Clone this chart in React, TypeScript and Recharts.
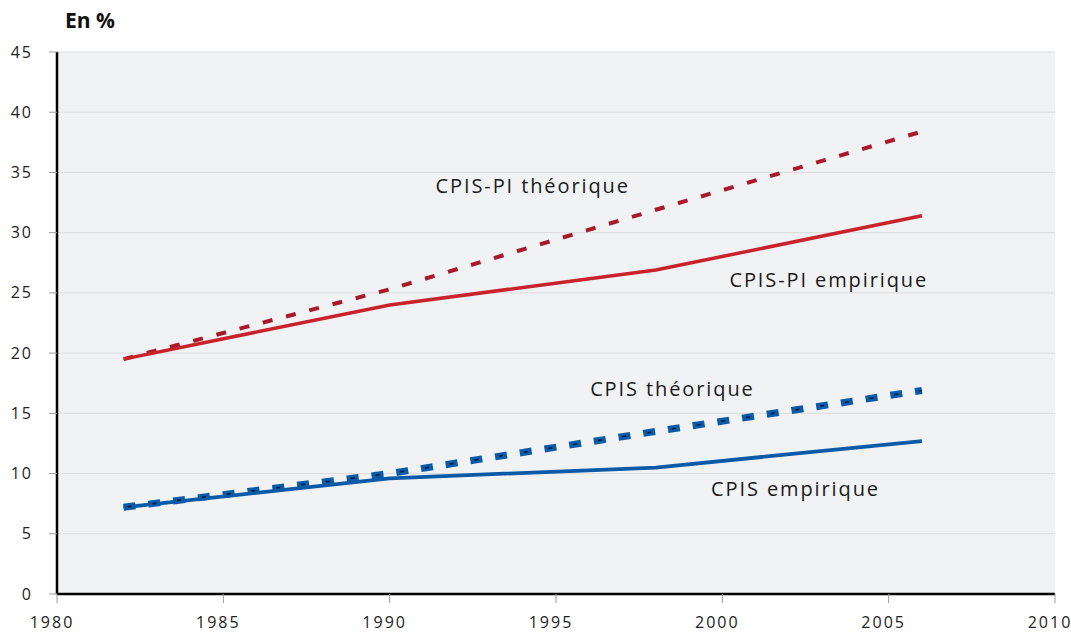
import React from "react";
import { CartesianGrid, Line, LineChart, ReferenceDot, XAxis, YAxis } from "recharts";

const years = [1982, 1990, 1998, 2006];
const cpisPiTheorique = [19.5, 25.3, 31.9, 38.4];
const cpisPiEmpirique = [19.5, 24.0, 26.9, 31.4];
const cpisTheorique = [7.2, 10.0, 13.5, 16.9];
const cpisEmpirique = [7.2, 9.6, 10.5, 12.7];

const xTicks = [1980, 1985, 1990, 1995, 2000, 2005, 2010];
const yTicks = [0, 5, 10, 15, 20, 25, 30, 35, 40, 45];

const labels = [
  { text: "CPIS-PI théorique", x: 1994.3, y: 33.9 },
  { text: "CPIS-PI empirique", x: 2003.2, y: 26.1 },
  { text: "CPIS théorique", x: 1998.5, y: 17.0 },
  { text: "CPIS empirique", x: 2002.2, y: 8.7 },
];

const data = years.map((year, i) => ({
  year,
  piTheo: cpisPiTheorique[i],
  piEmp: cpisPiEmpirique[i],
  theo: cpisTheorique[i],
  emp: cpisEmpirique[i],
}));

const font = "'Open Sans', sans-serif";

function XTick({ x, y, payload }: any) {
  return (
    <text x={x - 5} y={y} dy="0.71em" textAnchor="middle" fill="#222" fontSize={16} fontFamily={font} letterSpacing={2}>
      {payload.value}
    </text>
  );
}

function YTick({ x, y, payload }: any) {
  return (
    <text x={x} y={y} dy="0.35em" textAnchor="end" fill="#222" fontSize={16} fontFamily={font} letterSpacing={2}>
      {payload.value}
    </text>
  );
}

function NoteLabel(text: string) {
  return ({ viewBox }: any) => (
    <text
      x={viewBox.x + viewBox.width / 2}
      y={viewBox.y + viewBox.height / 2}
      dy="0.35em"
      textAnchor="middle"
      fill="#1a1a1a"
      fontSize={20}
      fontFamily={font}
      letterSpacing={1.9}
    >
      {text}
    </text>
  );
}

export default function App() {
  return (
    <div style={{ position: "absolute", left: 0, top: 0, width: 1071, height: 634, background: "#fff" }}>
      <div style={{ position: "absolute", left: 65, top: 6, fontFamily: font, fontWeight: 700, fontSize: 21, color: "#111" }}>
        En %
      </div>
      <LineChart width={1071} height={634} data={data} margin={{ top: 52, right: 16, bottom: 0, left: 0 }}>
        <CartesianGrid fill="#f1f2f4" stroke="#dcdcdc" vertical={false} />
        <XAxis
          dataKey="year"
          type="number"
          domain={[1980, 2010]}
          ticks={xTicks}
          height={40}
          axisLine={{ stroke: "#000", strokeWidth: 2.5 }}
          tickLine={{ stroke: "#999" }}
          tickSize={9}
          tickMargin={14}
          tick={<XTick />}
        />
        <YAxis
          type="number"
          domain={[0, 45]}
          ticks={yTicks}
          width={57}
          axisLine={{ stroke: "#000", strokeWidth: 2.5 }}
          tickLine={{ stroke: "#999" }}
          tickSize={8}
          tickMargin={16}
          tick={<YTick />}
        />
        <Line dataKey="piTheo" stroke="#a8192b" strokeWidth={4} strokeDasharray="10 14" dot={false} isAnimationActive={false} />
        <Line dataKey="piEmp" stroke="#c8232c" strokeWidth={3.5} dot={false} isAnimationActive={false} />
        <Line dataKey="emp" stroke="#0a5aa8" strokeWidth={3.8} dot={false} isAnimationActive={false} />
        <Line dataKey="theo" stroke="#0a5aa8" strokeWidth={7} strokeDasharray="12 13" dot={false} isAnimationActive={false} />
        <Line
          dataKey="theo"
          stroke="#0b1a3a"
          strokeWidth={1.5}
          strokeDasharray="4 21"
          strokeDashoffset={-4}
          dot={false}
          isAnimationActive={false}
        />
        {labels.map((l) => (
          <ReferenceDot key={l.text} x={l.x} y={l.y} r={0} stroke="none" fill="none" label={NoteLabel(l.text)} />
        ))}
      </LineChart>
    </div>
  );
}
